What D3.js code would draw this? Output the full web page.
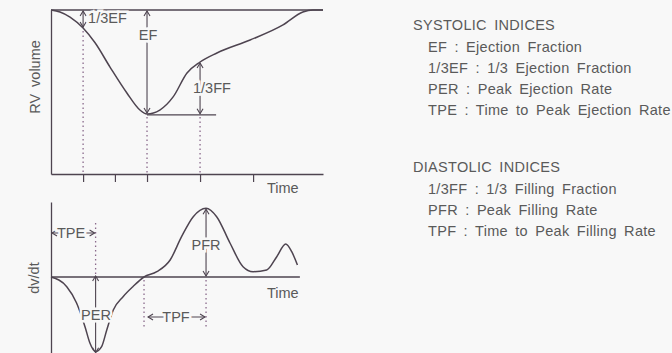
<!DOCTYPE html>
<html>
<head>
<meta charset="utf-8">
<script src="https://cdn.jsdelivr.net/npm/d3@7"></script>
<style>
  body { margin: 0; background: #f8f8f8; }
  svg { display: block; font-family: "Liberation Sans", Arial, sans-serif; }
</style>
</head>
<body>
<svg id="chart"></svg>
<script>
// RV volume curve (time in % of cycle, volume in % of EDV-ish units)
const volTime = [0, 3.3, 7, 11.8, 16.2, 21.7, 27.9, 32.7, 35.3, 40, 44.9, 50, 54.8, 61, 73.2, 85.3, 92.6, 96.3, 100];
const volValue = [100, 98.8, 95.7, 89, 80, 65.2, 49.4, 39, 36.6, 39, 47, 61.6, 68.3, 73.8, 81.7, 90.9, 98.8, 100, 100];

// dv/dt curve
const rateTime = [0, 5.8, 9.4, 12.5, 14.3, 16.4, 18.6, 20.5, 22.9, 26.5, 30.1, 34.2, 38.9, 43.8, 48, 52.3, 57, 60.9, 65.8, 70.6, 74.3, 79.3, 83, 86.3, 88.5, 90.6];
const rateValue = [0, -9.7, -26, -49.7, -66, -74.7, -69.7, -53, -33, -19.7, -9.7, 0, 5.3, 17, 40.3, 60.3, 68.7, 60.3, 34, 10.3, 5.3, 7, 20.3, 33, 25.3, 12];

const timeTicks = [11.8, 23.5, 35.3, 54.8, 74.3];

// key points
const edv = 100, esv = 36.6, oneThirdEFTime = 11.8, oneThirdEFValue = 89;
const esTime = 35.3, oneThirdFFTime = 54.8, oneThirdFFValue = 68.3;
const perTime = 16.4, perValue = -74.7;
const tpfStart = 34.2, pfrTime = 57, pfrValue = 68.7;

const systolic = ["EF : Ejection Fraction", "1/3EF : 1/3 Ejection Fraction", "PER : Peak Ejection Rate", "TPE : Time to Peak Ejection Rate"];
const diastolic = ["1/3FF : 1/3 Filling Fraction", "PFR : Peak Filling Rate", "TPF : Time to Peak Filling Rate"];

const W = 672, H = 353;
const bg = "#f8f8f8", ink = "#4e4450", textCol = "#5a5a5a", dotCol = "#8a6a8c";

const svg = d3.select("#chart").attr("width", W).attr("height", H);
svg.append("rect").attr("width", W).attr("height", H).attr("fill", bg);

const defs = svg.append("defs");
defs.append("marker")
    .attr("id", "arr")
    .attr("viewBox", "-7 -4 8 8")
    .attr("refX", 0).attr("refY", 0)
    .attr("markerWidth", 8).attr("markerHeight", 8)
    .attr("markerUnits", "userSpaceOnUse")
    .attr("orient", "auto-start-reverse")
    .append("path")
    .attr("d", "M-5,-3 L0,0 L-5,3")
    .attr("fill", "none")
    .attr("stroke", ink)
    .attr("stroke-width", 1.1);

const x = d3.scaleLinear().domain([0, 100]).range([51, 323]);
const yTop = d3.scaleLinear().domain([0, 100]).range([174, 10]);
const yBot = d3.scaleLinear().domain([-76, 75]).range([353, 202]);

// Axes
function styleAxis(g) {
    g.select(".domain").attr("stroke", ink).attr("stroke-width", 1.3);
    g.selectAll(".tick line").attr("stroke", ink).attr("stroke-width", 1.2);
    g.selectAll(".tick text").remove();
}

svg.append("g")
    .attr("transform", `translate(0,${yTop(0)})`)
    .call(d3.axisBottom(x).tickValues(timeTicks).tickSize(8).tickSizeOuter(0).tickFormat(""))
    .call(styleAxis);

svg.append("g")
    .attr("transform", `translate(${x(0)},0)`)
    .call(d3.axisLeft(yTop).tickValues([]).tickSizeOuter(0))
    .call(styleAxis);

svg.append("g")
    .attr("transform", `translate(${x(0)},0)`)
    .call(d3.axisLeft(yBot).tickValues([]).tickSizeOuter(0))
    .call(styleAxis);

// EDV line on top
svg.append("line")
    .attr("x1", x(0)).attr("x2", x(100))
    .attr("y1", yTop(edv)).attr("y2", yTop(edv))
    .attr("stroke", ink).attr("stroke-width", 1.3);

// zero line of dv/dt
svg.append("line")
    .attr("x1", x(0)).attr("x2", x(91.5))
    .attr("y1", yBot(0)).attr("y2", yBot(0))
    .attr("stroke", ink).attr("stroke-width", 1.3);

// ESV line
svg.append("line")
    .attr("x1", x(esTime)).attr("x2", x(60.7))
    .attr("y1", yTop(esv - 0.5)).attr("y2", yTop(esv - 0.5))
    .attr("stroke", ink).attr("stroke-width", 1.2);

// dotted guides
function dotted(t, y1, y2) {
    svg.append("line")
        .attr("x1", x(t)).attr("x2", x(t))
        .attr("y1", y1).attr("y2", y2)
        .attr("stroke", dotCol).attr("stroke-width", 1.3)
        .attr("stroke-dasharray", "1.5,3");
}
dotted(oneThirdEFTime, yTop(oneThirdEFValue) + 3, yTop(0));
dotted(esTime, yTop(esv) + 3, yTop(0));
dotted(oneThirdFFTime, yTop(esv) + 3, yTop(0));
dotted(perTime, yBot(54), yBot(0) - 2);
dotted(tpfStart, yBot(0) + 3, yBot(-50));
dotted(pfrTime, yBot(0) + 3, yBot(-50));

// curves
const volData = volTime.map((t, i) => ({t, v: volValue[i]}));
const rateData = rateTime.map((t, i) => ({t, v: rateValue[i]}));

svg.append("path")
    .datum(volData)
    .attr("fill", "none").attr("stroke", ink).attr("stroke-width", 1.5)
    .attr("d", d3.line().x(d => x(d.t)).y(d => yTop(d.v)).curve(d3.curveMonotoneX));

svg.append("path")
    .datum(rateData)
    .attr("fill", "none").attr("stroke", ink).attr("stroke-width", 1.5)
    .attr("d", d3.line().x(d => x(d.t)).y(d => yBot(d.v)).curve(d3.curveMonotoneX));

// double arrows
function arrow(x1, y1, x2, y2) {
    svg.append("line")
        .attr("x1", x1).attr("y1", y1).attr("x2", x2).attr("y2", y2)
        .attr("stroke", ink).attr("stroke-width", 1.1)
        .attr("marker-start", "url(#arr)")
        .attr("marker-end", "url(#arr)");
}
arrow(x(oneThirdEFTime), yTop(edv) + 1, x(oneThirdEFTime), yTop(oneThirdEFValue) - 1);
arrow(x(esTime), yTop(edv) + 1, x(esTime), yTop(esv) - 1);
arrow(x(oneThirdFFTime), yTop(oneThirdFFValue) + 1, x(oneThirdFFTime), yTop(esv - 0.5) - 1);
arrow(x(0) + 1, yBot(44), x(perTime) - 1, yBot(44));
arrow(x(perTime), yBot(0) - 1, x(perTime), yBot(perValue) + 1);
arrow(x(pfrTime), yBot(pfrValue) + 1, x(pfrTime), yBot(0) - 1);
arrow(x(tpfStart) + 4, yBot(-40), x(pfrTime) - 1, yBot(-40));

// labels with halo to break lines
function label(txt, px, py, anchor, size) {
    svg.append("text")
        .attr("x", px).attr("y", py)
        .attr("text-anchor", anchor || "middle")
        .attr("dominant-baseline", "central")
        .attr("font-size", size || 14.5)
        .attr("fill", textCol)
        .attr("stroke", bg).attr("stroke-width", 5)
        .attr("paint-order", "stroke")
        .text(txt);
}
label("1/3EF", x(oneThirdEFTime) + 5, 18, "start");
label("EF", x(esTime) + 1, 35);
label("1/3FF", 193, 88, "start");
label("Time", 267, 188, "start");
label("Time", 267, 293, "start");
label("TPE", 71, yBot(44));
label("PER", 96, 315);
label("PFR", 206, 245);
label("TPF", 176, yBot(-40));

// rotated y labels
svg.append("text")
    .attr("transform", "translate(35,77) rotate(-90)")
    .attr("text-anchor", "middle").attr("dominant-baseline", "central")
    .attr("font-size", 14.5).attr("fill", textCol)
    .attr("word-spacing", 3)
    .text("RV volume");
svg.append("text")
    .attr("transform", "translate(34,278) rotate(-90)")
    .attr("text-anchor", "middle").attr("dominant-baseline", "central")
    .attr("font-size", 14.5).attr("fill", textCol)
    .text("dv/dt");

// legend text
function legendBlock(title, items, top) {
    svg.append("text")
        .attr("x", 413).attr("y", top)
        .attr("dominant-baseline", "central")
        .attr("font-size", 14.5).attr("fill", textCol)
        .attr("word-spacing", 3).attr("letter-spacing", 0.3)
        .text(title);
    items.forEach((s, i) => {
        svg.append("text")
            .attr("x", 428).attr("y", top + 22 + i * 21)
            .attr("dominant-baseline", "central")
            .attr("font-size", 14.5).attr("fill", textCol)
            .attr("word-spacing", 3).attr("letter-spacing", 0.3)
            .text(s);
    });
}
legendBlock("SYSTOLIC INDICES", systolic, 25);
legendBlock("DIASTOLIC INDICES", diastolic, 167);
</script>
</body>
</html>
